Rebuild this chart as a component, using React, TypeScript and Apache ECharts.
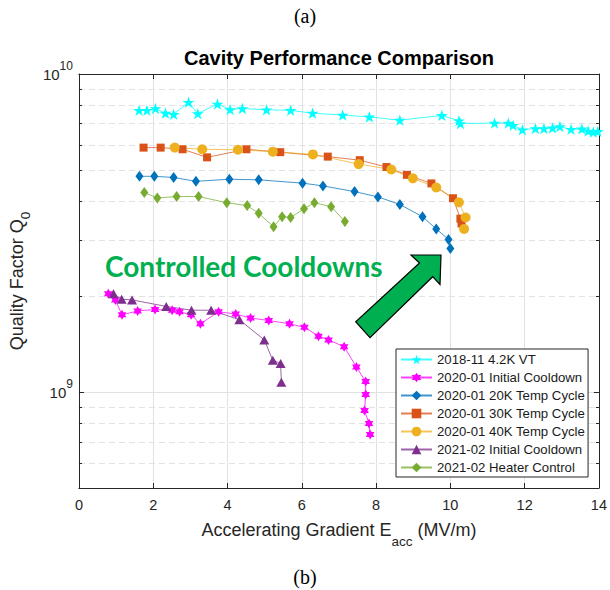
import React, { useEffect, useRef } from 'react';
import * as echarts from 'echarts';

// ---------- data (x = Eacc in MV/m, q = Q0 in units of 1e9) ----------
const vt2018X = [1.62, 1.83, 2.06, 2.33, 2.55, 2.95, 3.2, 3.73, 4.07, 4.4, 5.05, 5.7, 6.29, 7.1, 7.82, 8.64, 9.77, 10.23, 10.27, 11.19, 11.56, 11.69, 11.94, 12.29, 12.52, 12.75, 12.95, 13.25, 13.54, 13.71, 13.85, 13.97];
const vt2018Q = [7.69, 7.69, 7.79, 7.53, 7.47, 8.15, 7.51, 8.05, 7.73, 7.79, 7.72, 7.69, 7.53, 7.43, 7.33, 7.16, 7.41, 7.13, 6.99, 7.01, 7.01, 6.9, 6.68, 6.74, 6.74, 6.77, 6.84, 6.7, 6.72, 6.62, 6.57, 6.6];

const init2020X = [0.79, 0.98, 1.16, 1.58, 2.05, 2.51, 2.71, 3.02, 3.27, 3.76, 4.22, 4.62, 5.11, 5.67, 6.07, 6.45, 6.72, 7.14, 7.47, 7.72, 7.72, 7.69, 7.81, 7.84];
const init2020Q = [2.04, 1.95, 1.75, 1.8, 1.82, 1.81, 1.79, 1.75, 1.64, 1.79, 1.76, 1.71, 1.68, 1.64, 1.6, 1.5, 1.46, 1.39, 1.2, 1.08, 0.984, 0.876, 0.797, 0.736];

const tc20X = [1.63, 2.03, 2.55, 3.15, 4.05, 4.84, 6.02, 6.57, 7.42, 8.05, 8.64, 9.25, 9.62, 9.95, 10.0];
const tc20Q = [4.77, 4.77, 4.73, 4.6, 4.67, 4.65, 4.54, 4.45, 4.27, 4.11, 3.89, 3.56, 3.26, 3.02, 2.83];

const tc30X = [1.74, 2.2, 2.79, 3.45, 4.51, 5.42, 6.7, 7.56, 8.28, 8.83, 9.49, 10.07, 10.27, 10.3];
const tc30Q = [5.87, 5.87, 5.8, 5.47, 5.8, 5.68, 5.5, 5.36, 5.1, 4.82, 4.53, 4.07, 3.51, 3.39];

const tc40X = [2.58, 3.32, 4.28, 5.22, 6.3, 7.53, 8.41, 8.99, 9.62, 10.23, 10.41, 10.37];
const tc40Q = [5.87, 5.8, 5.78, 5.7, 5.59, 5.21, 5.01, 4.7, 4.4, 3.95, 3.54, 3.26];

const init2021X = [0.93, 1.15, 1.43, 2.35, 3.03, 3.56, 4.32, 4.99, 5.22, 5.43, 5.45];
const init2021Q = [2.04, 1.96, 1.95, 1.86, 1.81, 1.81, 1.69, 1.46, 1.26, 1.23, 1.075];

const heaterX = [1.76, 2.11, 2.63, 3.22, 3.98, 4.53, 4.84, 5.24, 5.47, 5.7, 6.06, 6.34, 6.79, 7.16];
const heaterQ = [4.24, 4.08, 4.12, 4.12, 3.94, 3.86, 3.65, 3.31, 3.56, 3.54, 3.77, 3.94, 3.83, 3.44];

const seriesNames = [
  '2018-11 4.2K VT',
  '2020-01 Initial Cooldown',
  '2020-01 20K Temp Cycle',
  '2020-01 30K Temp Cycle',
  '2020-01 40K Temp Cycle',
  '2021-02 Initial Cooldown',
  '2021-02 Heater Control',
];

const minorGridQ = [6e8, 7e8, 8e8, 9e8, 2e9, 3e9, 4e9, 5e9, 6e9, 7e9, 8e9, 9e9];
const xMin = 0;
const xMax = 14;
const xInterval = 2;
const yMin = 5e8;
const yMax = 1e10;

// ---------- styling ----------
const FONT = '"Liberation Sans", Arial, Helvetica, sans-serif';
const AXIS = '#262626';
const GRID = '#e2e2e2';

const STAR = 'path://M50,0 L61.8,35.1 L98.9,35.1 L68.8,56.9 L80.3,92.1 L50,70.4 L19.7,92.1 L31.2,56.9 L1.1,35.1 L38.2,35.1 Z';
const HEXAGRAM = 'path://M50,0 L64.43,25 L93.3,25 L78.87,50 L93.3,75 L64.43,75 L50,100 L35.57,75 L6.7,75 L21.13,50 L6.7,25 L35.57,25 Z';

const toPairs = (xs: number[], qs: number[]) => xs.map((x, i) => [x, qs[i] * 1e9]);

function lineSeries(name: string, xs: number[], qs: number[], color: string, symbol: string, size: any, keep = false) {
  return {
    type: 'line',
    name,
    data: toPairs(xs, qs),
    symbol,
    symbolSize: size,
    symbolKeepAspect: keep,
    showSymbol: true,
    itemStyle: { color, borderWidth: 0 },
    lineStyle: { color, width: 1, opacity: 0.75 },
    emphasis: { disabled: true },
    z: 3,
  };
}

export default function App() {
  const ref = useRef<HTMLDivElement>(null);

  useEffect(() => {
    if (!ref.current) return;
    const chart = echarts.init(ref.current, undefined, { renderer: 'svg' });

    const gridLeft = 76;
    const gridTop = 74;
    const gridWidth = 526;
    const gridHeight = 414;

    const option: any = {
      animation: false,
      backgroundColor: '#ffffff',
      grid: { left: gridLeft, top: gridTop, width: gridWidth, height: gridHeight, containLabel: false },
      xAxis: [
        {
          type: 'value',
          min: xMin,
          max: xMax,
          interval: xInterval,
          position: 'bottom',
          axisLine: { show: true, onZero: false, lineStyle: { color: AXIS, width: 1 } },
          axisTick: { show: true, inside: true, length: 5, lineStyle: { color: AXIS } },
          axisLabel: { show: true, color: AXIS, fontFamily: FONT, fontSize: 14.5, margin: 9 },
          splitLine: { show: true, lineStyle: { color: GRID, width: 1 } },
          name: '{n|Accelerating Gradient E}{s|acc}{n| (MV/m)}',
          nameLocation: 'middle',
          nameGap: 24,
          nameTextStyle: {
            rich: {
              n: { fontFamily: FONT, fontSize: 18, color: AXIS, verticalAlign: 'middle', lineHeight: 36 },
              s: { fontFamily: FONT, fontSize: 13.5, color: AXIS, verticalAlign: 'bottom', lineHeight: 36 },
            },
          },
        },
        {
          type: 'value',
          min: xMin,
          max: xMax,
          interval: xInterval,
          position: 'top',
          axisLine: { show: true, onZero: false, lineStyle: { color: AXIS, width: 1 } },
          axisTick: { show: true, inside: true, length: 5, lineStyle: { color: AXIS } },
          axisLabel: { show: false },
          splitLine: { show: false },
        },
      ],
      yAxis: [
        {
          type: 'log',
          logBase: 10,
          min: yMin,
          max: yMax,
          position: 'left',
          axisLine: { show: true, onZero: false, lineStyle: { color: AXIS, width: 1 } },
          axisTick: { show: true, inside: true, length: 5, lineStyle: { color: AXIS } },
          axisLabel: {
            show: true,
            margin: 6,
            formatter: (v: number) => {
              const e = Math.log10(v);
              const r = Math.round(e);
              if (Math.abs(e - r) > 1e-6) return '';
              return `{b|10}{s|${r}}`;
            },
            rich: {
              b: { fontFamily: FONT, fontSize: 15, color: AXIS, verticalAlign: 'middle', lineHeight: 28 },
              s: { fontFamily: FONT, fontSize: 12, color: AXIS, verticalAlign: 'top', lineHeight: 28 },
            },
          },
          splitLine: { show: true, lineStyle: { color: GRID, width: 1 } },
          name: '{n|Quality Factor Q}{s|0}',
          nameLocation: 'middle',
          nameRotate: 90,
          nameGap: 41,
          nameTextStyle: {
            rich: {
              n: { fontFamily: FONT, fontSize: 18, color: AXIS, verticalAlign: 'middle', lineHeight: 30 },
              s: { fontFamily: FONT, fontSize: 13.5, color: AXIS, verticalAlign: 'bottom', lineHeight: 30 },
            },
          },
        },
        {
          type: 'log',
          logBase: 10,
          min: yMin,
          max: yMax,
          position: 'right',
          axisLine: { show: true, onZero: false, lineStyle: { color: AXIS, width: 1 } },
          axisTick: { show: true, inside: true, length: 5, lineStyle: { color: AXIS } },
          axisLabel: { show: false },
          splitLine: { show: false },
        },
      ],
      legend: {
        show: true,
        data: seriesNames,
        orient: 'vertical',
        left: 396,
        top: 349,
        padding: [4, 3, 3, 4],
        itemWidth: 31,
        itemHeight: 12,
        itemGap: 5,
        backgroundColor: '#ffffff',
        borderColor: AXIS,
        borderWidth: 1,
        borderRadius: 0,
        selectedMode: false,
        textStyle: { fontFamily: FONT, fontSize: 13.2, color: '#1a1a1a', lineHeight: 12 },
      },
      graphic: [
        {
          type: 'text',
          x: 305,
          y: 16,
          style: { text: '(a)', fontFamily: '"Liberation Serif", "Times New Roman", serif', fontSize: 20, fill: '#000', align: 'center', verticalAlign: 'middle' },
        },
        {
          type: 'text',
          x: 305,
          y: 577,
          style: { text: '(b)', fontFamily: '"Liberation Serif", "Times New Roman", serif', fontSize: 20, fill: '#000', align: 'center', verticalAlign: 'middle' },
        },
        {
          type: 'text',
          x: 339,
          y: 58,
          style: { text: 'Cavity Performance Comparison', fontFamily: FONT, fontWeight: 'bold', fontSize: 20, fill: '#000', align: 'center', verticalAlign: 'middle' },
        },
        {
          type: 'text',
          x: 105,
          y: 266,
          z: 10,
          style: { text: 'Controlled Cooldowns', fontFamily: 'Lato, "Open Sans", sans-serif', fontWeight: 'bold', fontSize: 28, fill: '#00B050', align: 'left', verticalAlign: 'middle' },
        },
        {
          type: 'polygon',
          z: 10,
          shape: {
            points: [
              [441, 255],
              [411, 255],
              [419.5, 263],
              [355.7, 321.7],
              [370, 337.7],
              [432.7, 276.7],
              [440, 284.5],
            ],
          },
          style: { fill: '#00B050', stroke: '#000000', lineWidth: 1.2 },
        },
      ],
      series: [
        {
          type: 'custom',
          name: 'minor-grid',
          silent: true,
          z: 1,
          xAxisIndex: 0,
          yAxisIndex: 0,
          data: minorGridQ.map((v) => [xMin, v]),
          encode: { x: 0, y: 1 },
          renderItem: (params: any, api: any) => {
            const cs = params.coordSys;
            const y = Math.round(api.coord([xMin, api.value(1)])[1]) + 0.5;
            return {
              type: 'group',
              children: [
                { type: 'line', shape: { x1: cs.x, y1: y, x2: cs.x + cs.width, y2: y }, style: { stroke: GRID, lineWidth: 1, lineDash: [6, 4] } },
                { type: 'line', shape: { x1: cs.x, y1: y, x2: cs.x + 3, y2: y }, style: { stroke: AXIS, lineWidth: 1 } },
                { type: 'line', shape: { x1: cs.x + cs.width - 3, y1: y, x2: cs.x + cs.width, y2: y }, style: { stroke: AXIS, lineWidth: 1 } },
              ],
            };
          },
        },
        lineSeries(seriesNames[0], vt2018X, vt2018Q, '#00FFFF', STAR, 12, true),
        lineSeries(seriesNames[1], init2020X, init2020Q, '#FF00FF', HEXAGRAM, 10, true),
        lineSeries(seriesNames[2], tc20X, tc20Q, '#0072BD', 'diamond', [8, 11]),
        lineSeries(seriesNames[3], tc30X, tc30Q, '#D95319', 'rect', 8),
        lineSeries(seriesNames[4], tc40X, tc40Q, '#EDB120', 'circle', 10),
        lineSeries(seriesNames[5], init2021X, init2021Q, '#7E2F8E', 'triangle', [10, 9]),
        lineSeries(seriesNames[6], heaterX, heaterQ, '#77AC30', 'diamond', [8, 11]),
      ],
    };

    chart.setOption(option);
    return () => chart.dispose();
  }, []);

  return <div ref={ref} style={{ position: 'absolute', left: 0, top: 0, width: 610, height: 590, background: '#fff' }} />;
}
